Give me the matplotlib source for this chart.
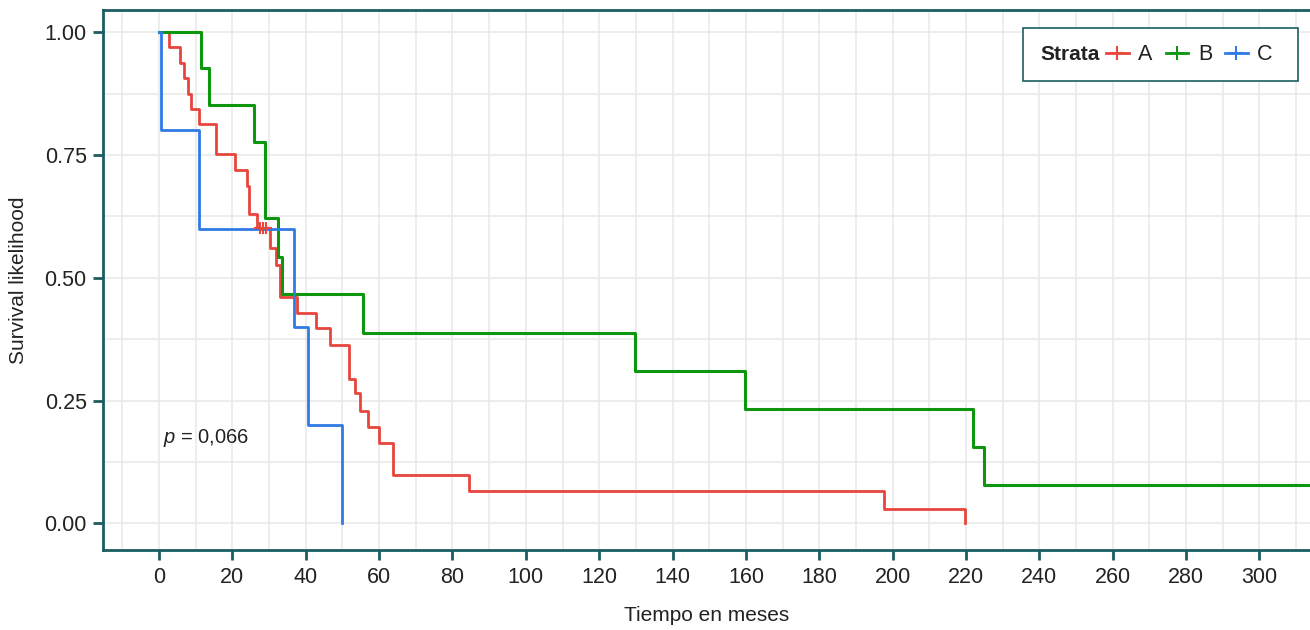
import matplotlib
matplotlib.use("Agg")
import matplotlib.pyplot as plt
from matplotlib.lines import Line2D
from matplotlib.patches import Rectangle
from matplotlib.ticker import MultipleLocator

plt.rcParams["font.family"] = ["Liberation Sans", "DejaVu Sans"]
plt.rcParams["mathtext.fontset"] = "custom"
plt.rcParams["mathtext.it"] = "Liberation Sans:italic"
plt.rcParams["mathtext.rm"] = "Liberation Sans"

# Kaplan-Meier estimates (months, survival)
time_a = [0, 2.6, 5.6, 6.7, 7.8, 8.7, 10.8, 15.6, 20.8, 24.0, 24.6, 26.7, 30.3, 32.0,
          33.0, 37.6, 42.8, 46.7, 51.9, 53.5, 54.9, 57.1, 59.9, 63.8, 84.5, 197.6, 219.8]
surv_a = [1.0, 0.969, 0.938, 0.906, 0.875, 0.844, 0.812, 0.751, 0.720, 0.686, 0.629, 0.601,
          0.561, 0.527, 0.460, 0.429, 0.397, 0.363, 0.295, 0.265, 0.229, 0.197, 0.164,
          0.098, 0.066, 0.030, 0.0]
cens_time_a = [27.5, 28.3, 29.1]
cens_surv_a = [0.601, 0.601, 0.601]

time_b = [0, 11.4, 13.5, 25.8, 28.8, 32.4, 33.5, 55.6, 129.9, 159.7, 221.9, 224.8, 330]
surv_b = [1.0, 0.926, 0.852, 0.776, 0.621, 0.543, 0.466, 0.388, 0.311, 0.233, 0.155,
          0.078, 0.078]

time_c = [0, 0.5, 10.8, 36.7, 40.6, 50.0]
surv_c = [1.0, 0.8, 0.6, 0.4, 0.2, 0.0]

strata = ["A", "B", "C"]
colors = ["#e8453c", "#0e960e", "#2f7ae5"]
p_label = "$p$ = 0,066"

teal = "#1b5d62"
txt = "#222222"

fig = plt.figure(figsize=(13.1, 6.3), dpi=100)
ax = fig.add_axes([103.3 / 1310, 1 - 550 / 630, 1 - 103.3 / 1310, 540 / 630])

ax.step(time_a, surv_a, where="post", color=colors[0], lw=2.0)
ax.step(time_b, surv_b, where="post", color=colors[1], lw=2.2)
ax.step(time_c, surv_c, where="post", color=colors[2], lw=2.0)
ax.plot(cens_time_a, cens_surv_a, ls="none", marker="+", ms=9, mew=1.5, color=colors[0])

ax.text(1.0, 0.174, p_label, fontsize=14.5, color=txt, ha="left", va="center")

ax.set_xlim(-15.2, 313.8)
ax.set_ylim(-0.054, 1.045)
ax.xaxis.set_major_locator(MultipleLocator(20))
ax.xaxis.set_minor_locator(MultipleLocator(10))
ax.yaxis.set_major_locator(MultipleLocator(0.25))
ax.yaxis.set_minor_locator(MultipleLocator(0.125))
ax.yaxis.set_major_formatter(lambda v, pos: f"{v:.2f}")
ax.grid(True, which="both", color="#e8e8e8", lw=1.1)
ax.set_axisbelow(True)

for side in ["left", "bottom", "top"]:
    ax.spines[side].set_color(teal)
    ax.spines[side].set_linewidth(2.0)
ax.spines["right"].set_visible(False)
ax.tick_params(which="major", length=7, width=2.0, color=teal, labelsize=15.5,
               labelcolor=txt, pad=5)
ax.tick_params(which="minor", length=0)

ax.set_xlabel("Tiempo en meses", fontsize=15, color=txt, labelpad=13)
ax.set_ylabel("Survival likelihood", fontsize=15, color=txt, labelpad=12)

# legend: framed box with bold title to the left of the keys
fig.patches.append(Rectangle((1023 / 1310, 1 - 81 / 630), 275 / 1310, 53 / 630,
                             transform=fig.transFigure, facecolor="white",
                             edgecolor=teal, lw=1.2, zorder=5))
fig.text(1040 / 1310, 1 - 55 / 630, "Strata", fontsize=15, fontweight="bold",
         color=txt, ha="left", va="center", zorder=6)
handles = [Line2D([], [], color=c, lw=2.0, marker="+", ms=10, mew=1.5) for c in colors]
leg = fig.legend(handles, strata, ncol=3, frameon=False, loc="center left",
                 bbox_to_anchor=(1106 / 1310, 1 - 55 / 630), borderpad=0,
                 borderaxespad=0, handlelength=1.05, handletextpad=0.45,
                 columnspacing=0.6, fontsize=15.5, labelcolor=txt)
leg.set_zorder(7)

fig.savefig("out.png", dpi=100)
plt.close(fig)
